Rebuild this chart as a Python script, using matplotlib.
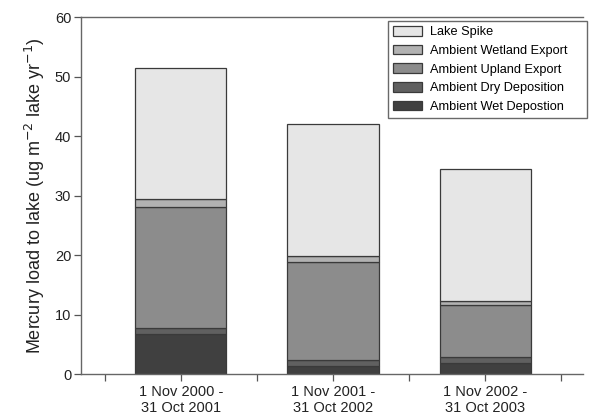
import matplotlib
matplotlib.use("Agg")
import matplotlib.pyplot as plt
import numpy as np

plt.rcParams['font.family'] = ['Liberation Sans', 'DejaVu Sans']

# data
periods = ["1 Nov 2000 -\n31 Oct 2001", "1 Nov 2001 -\n31 Oct 2002", "1 Nov 2002 -\n31 Oct 2003"]
wet_dep = [6.8, 1.35, 1.85]
dry_dep = [1.0, 1.0, 1.0]
upland = [20.3, 16.55, 8.85]
wetland = [1.3, 1.0, 0.6]
spike = [22.1, 22.1, 22.1]

series = [
    ("Ambient Wet Depostion", wet_dep, "#404040"),
    ("Ambient Dry Deposition", dry_dep, "#606060"),
    ("Ambient Upland Export", upland, "#8c8c8c"),
    ("Ambient Wetland Export", wetland, "#b2b2b2"),
    ("Lake Spike", spike, "#e6e6e6"),
]

fig = plt.figure(figsize=(5.89, 4.19), dpi=100)
ax = fig.add_axes([0.1375, 0.107, 0.852, 0.852])

x = np.arange(len(periods))
bottom = np.zeros(len(periods))
handles = []
for name, vals, col in series:
    b = ax.bar(x, vals, 0.6, bottom=bottom, color=col, edgecolor="#3a3a3a",
               linewidth=0.9, label=name)
    handles.append(b)
    bottom += np.array(vals)

ax.set_ylim(0, 60)
ax.set_xlim(-0.655, 2.64)
ax.set_yticks(range(0, 61, 10))
ax.set_xticks(x)
ax.set_xticklabels(periods)
ax.set_xticks(np.arange(-0.5, 3.0, 1.0), minor=True)
ax.tick_params(axis="both", which="both", direction="out", length=5,
               width=0.9, color="#555555", labelsize=10.5, colors="#222222")
ax.tick_params(axis="x", which="major", pad=3)
ax.tick_params(axis="y", pad=2)
for s in ["left", "bottom", "top"]:
    ax.spines[s].set_color("#666666")
    ax.spines[s].set_linewidth(1.0)
ax.spines["right"].set_visible(False)

ax.set_ylabel("Mercury load to lake (ug m$^{-2}$ lake yr$^{-1}$)", fontsize=13,
              color="#222222", labelpad=6)

# legend box stretched to the frame width seen in the reference
leg = fig.legend(handles[::-1], [s[0] for s in series][::-1], loc="upper left",
                 bbox_to_anchor=(388 / 589, 0.5, 199 / 589, 0.4506),
                 mode="expand", fontsize=9.2, frameon=True,
                 fancybox=False, edgecolor="#444444", handlelength=2.3,
                 handleheight=0.8, borderpad=0.4, labelspacing=0.5,
                 handletextpad=0.55, borderaxespad=0.0)
leg.get_frame().set_linewidth(1.0)

fig.savefig("out.png", dpi=100)
